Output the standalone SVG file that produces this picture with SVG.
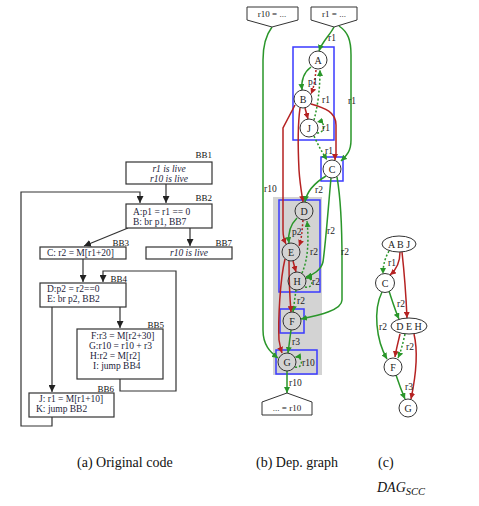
<svg xmlns="http://www.w3.org/2000/svg" width="479" height="506" viewBox="0 0 479 506">
<style>
text{font-family:"Liberation Serif","Times New Roman",serif;fill:#1d1d3a}
.code{font-size:9.5px}
.it{font-style:italic}
.bbl{font-size:9px;text-anchor:end;fill:#111}
.box{fill:#fff;stroke:#333;stroke-width:1.2}
.cf{fill:none;stroke:#333;stroke-width:1.2}
.nd{fill:none;stroke:#333;stroke-width:1}
.nt{font-size:10px;text-anchor:middle;fill:#222}
.lb{font-size:9.5px;fill:#222}
.house{fill:#fff;stroke:#333;stroke-width:1}
.ht{font-size:9px;text-anchor:middle;fill:#222}
.g{fill:none;stroke:#2a962a;stroke-width:1.5}
.r{fill:none;stroke:#b52222;stroke-width:1.5}
.d{stroke-dasharray:2,2}
.scc{fill:none;stroke:#3a3aff;stroke-width:1.5}
.cap{font-size:14px;fill:#111}
</style>
<defs>
<marker id="ak" viewBox="0 0 10 10" refX="10" refY="5" markerWidth="7" markerHeight="7" markerUnits="userSpaceOnUse" orient="auto"><path d="M0,0L10,5L0,10z" fill="#222"/></marker>
<marker id="ag" viewBox="0 0 10 10" refX="10" refY="5" markerWidth="6" markerHeight="6" markerUnits="userSpaceOnUse" orient="auto"><path d="M0,0L10,5L0,10z" fill="#2a962a"/></marker>
<marker id="ar" viewBox="0 0 10 10" refX="10" refY="5" markerWidth="6" markerHeight="6" markerUnits="userSpaceOnUse" orient="auto"><path d="M0,0L10,5L0,10z" fill="#b52222"/></marker>
</defs>
<rect width="479" height="506" fill="#fff"/>

<!-- (a) Original code -->
<g id="a-connectors">
<path class="cf" d="M166,184V203" marker-end="url(#ak)"/>
<path class="cf" d="M52,417V426H21V192H140V203" marker-end="url(#ak)"/>
<path class="cf" d="M128,228L84,246" marker-end="url(#ak)"/>
<path class="cf" d="M190,228V246" marker-end="url(#ak)"/>
<path class="cf" d="M83,259V282" marker-end="url(#ak)"/>
<path class="cf" d="M120,379V391H176V271H103V282" marker-end="url(#ak)"/>
<path class="cf" d="M120,307V328" marker-end="url(#ak)"/>
<path class="cf" d="M52,307V392" marker-end="url(#ak)"/>
</g>
<g id="BB1"><text class="bbl" x="212" y="158">BB1</text><rect class="box" x="126" y="162" width="86" height="22"/>
<text class="code it" x="169" y="172" text-anchor="middle">r1 is live</text><text class="code it" x="169" y="182" text-anchor="middle">r10 is live</text></g>
<g id="BB2"><text class="bbl" x="212" y="201">BB2</text><rect class="box" x="126" y="204" width="86" height="24"/>
<text class="code" x="133" y="215">A:p1 = r1 == 0</text><text class="code" x="133" y="225">B: br p1, BB7</text></g>
<g id="BB3"><text class="bbl" x="129" y="246">BB3</text><rect class="box" x="40" y="247" width="86" height="12"/>
<text class="code" x="47" y="256">C: r2 = M[r1+20]</text></g>
<g id="BB7"><text class="bbl" x="232" y="246">BB7</text><rect class="box" x="146" y="247" width="86" height="12"/>
<text class="code it" x="189" y="256" text-anchor="middle">r10 is live</text></g>
<g id="BB4"><text class="bbl" x="127" y="282">BB4</text><rect class="box" x="40" y="283" width="86" height="24"/>
<text class="code" x="47" y="292">D:p2 = r2==0</text><text class="code" x="47" y="302">E: br p2, BB2</text></g>
<g id="BB5"><text class="bbl" x="164" y="328">BB5</text><rect class="box" x="77" y="329" width="86" height="50"/>
<text class="code" x="91" y="339">F:r3 = M[r2+30]</text><text class="code" x="89" y="349">G:r10 = r10 + r3</text>
<text class="code" x="90" y="359">H:r2 = M[r2]</text><text class="code" x="93" y="369">I: jump BB4</text></g>
<g id="BB6"><text class="bbl" x="114" y="392">BB6</text><rect class="box" x="29" y="393" width="85" height="24"/>
<text class="code" x="39" y="402">J: r1 = M[r1+10]</text><text class="code" x="36" y="412">K: jump BB2</text></g>

<!-- (b) Dep. graph -->
<rect x="273" y="197" width="49" height="178" fill="#d3d3d3"/>
<g id="scc-boxes">
<rect class="scc" x="293" y="47" width="41" height="93"/>
<rect class="scc" x="321" y="157" width="22" height="24"/>
<rect class="scc" x="279" y="200" width="41" height="92"/>
<rect class="scc" x="280" y="309" width="24" height="24"/>
<rect class="scc" x="276" y="350" width="41" height="24"/>
</g>
<g id="b-connectors">
<path class="g" d="M334,27C330,35 322,42 319,51" marker-end="url(#ag)"/>
<path class="g" d="M339,26C348,32 351,40 351,55L351,140C351,152 346,156 341,161" marker-end="url(#ag)"/>
<path class="g" d="M272,27C266,35 263,45 263,60L263,330C263,345 270,352 278,358" marker-end="url(#ag)"/>
<path class="g" d="M311,67C303,73 301,80 302,90" marker-end="url(#ag)"/>
<path class="r d" d="M316,70C315,80 314,87 311,94" marker-end="url(#ar)"/>
<path class="g d" d="M314,120C318,105 320,88 320,70" marker-end="url(#ag)"/>
<path class="r" d="M305,108L308,119" marker-end="url(#ar)"/>
<path class="g d" d="M317,133C326,133 326,120 317,122" marker-end="url(#ag)"/>
<path class="g d" d="M314,136C318,145 322,152 327,160" marker-end="url(#ag)"/>
<path class="r" d="M311,104C325,108 336,112 336,125L336,153C336,156 335,158 335,160" marker-end="url(#ar)"/>
<path class="r" d="M300,108C297,130 298,150 299,170C300,185 302,195 303,202" marker-end="url(#ar)"/>
<path class="r" d="M295,105L283,128L283,230C283,238 285,242 286,244" marker-end="url(#ar)"/>
<path class="g" d="M326,176C316,182 307,190 305,202" marker-end="url(#ag)"/>
<path class="g" d="M331,178C328,210 326,240 323,262C321,270 313,275 306,277" marker-end="url(#ag)"/>
<path class="g" d="M337,177C341,200 342,230 342,260L342,300C342,310 320,315 301,319" marker-end="url(#ag)"/>
<path class="g" d="M297,218C290,225 288,235 289,243" marker-end="url(#ag)"/>
<path class="r d" d="M303,220C302,230 302,238 299,246" marker-end="url(#ar)"/>
<path class="g d" d="M302,273C308,260 309,240 307,221" marker-end="url(#ag)"/>
<path class="r" d="M293,261L296,272" marker-end="url(#ar)"/>
<path class="g d" d="M305,287C314,289 314,277 306,278" marker-end="url(#ag)"/>
<path class="g d" d="M296,290L293,312" marker-end="url(#ag)"/>
<path class="r" d="M289,261C289,280 290,300 291,312" marker-end="url(#ar)"/>
<path class="r" d="M285,259C280,280 278,320 279,340C280,346 281,350 282,353" marker-end="url(#ar)"/>
<path class="g" d="M291,330L288,353" marker-end="url(#ag)"/>
<path class="g d" d="M295,367C304,369 303,356 295,357" marker-end="url(#ag)"/>
<path class="g" d="M287,371L287,393" marker-end="url(#ag)"/>
<text class="lb" x="328" y="41">r1</text>
<text class="lb" x="348" y="104">r1</text>
<text class="lb" x="264" y="192">r10</text>
<text class="lb" x="308" y="85">p1</text>
<text class="lb" x="322" y="103">r1</text>
<text class="lb" x="322" y="131">r1</text>
<text class="lb" x="325" y="154">r1</text>
<text class="lb" x="315" y="193">r2</text>
<text class="lb" x="327" y="234">r2</text>
<text class="lb" x="341" y="255">r2</text>
<text class="lb" x="292" y="235">p2</text>
<text class="lb" x="310" y="255">r2</text>
<text class="lb" x="312" y="285">r2</text>
<text class="lb" x="297" y="304">r2</text>
<text class="lb" x="292" y="345">r3</text>
<text class="lb" x="302" y="366">r10</text>
<text class="lb" x="289" y="386">r10</text>
</g>
<g id="src-r10"><polygon class="house" points="247,7 298,7 298,20 272,27 247,20"/><text class="ht" x="272" y="17">r10 = ...</text></g>
<g id="src-r1"><polygon class="house" points="311,7 357,7 357,20 334,27 311,20"/><text class="ht" x="334" y="17">r1 = ...</text></g>
<g id="sink-r10"><polygon class="house" points="262,402 287,393 312,402 312,415 262,415"/><text class="ht" x="287" y="411">... = r10</text></g>
<g id="nA"><circle class="nd" cx="318" cy="60" r="9"/><text class="nt" x="318" y="63.5">A</text></g>
<g id="nB"><circle class="nd" cx="303" cy="99" r="9"/><text class="nt" x="303" y="102.5">B</text></g>
<g id="nJ"><circle class="nd" cx="309" cy="128" r="9"/><text class="nt" x="309" y="131.5">J</text></g>
<g id="nC"><circle class="nd" cx="332" cy="169" r="9"/><text class="nt" x="332" y="172.5">C</text></g>
<g id="nD"><circle class="nd" cx="304" cy="211" r="9"/><text class="nt" x="304" y="214.5">D</text></g>
<g id="nE"><circle class="nd" cx="291" cy="252" r="9"/><text class="nt" x="291" y="255.5">E</text></g>
<g id="nH"><circle class="nd" cx="297" cy="281" r="9"/><text class="nt" x="297" y="284.5">H</text></g>
<g id="nF"><circle class="nd" cx="292" cy="321" r="9"/><text class="nt" x="292" y="324.5">F</text></g>
<g id="nG"><circle class="nd" cx="287" cy="362" r="9"/><text class="nt" x="287" y="365.5">G</text></g>

<!-- (c) DAG_SCC -->
<g id="c-connectors">
<path class="g d" d="M389,251C385,258 383,265 383,274" marker-end="url(#ag)"/>
<path class="r" d="M400,252C400,262 396,270 390,275" marker-end="url(#ar)"/>
<path class="r" d="M402,252C404,270 406,295 407,318" marker-end="url(#ar)"/>
<path class="g" d="M389,291C392,300 395,310 399,319" marker-end="url(#ag)"/>
<path class="g" d="M382,292C373,310 376,340 387,359" marker-end="url(#ag)"/>
<path class="r" d="M400,334C398,343 396,350 395,357" marker-end="url(#ar)"/>
<path class="g d" d="M405,334C403,343 401,351 398,358" marker-end="url(#ag)"/>
<path class="r" d="M414,334C419,355 415,380 411,399" marker-end="url(#ar)"/>
<path class="g" d="M396,375C399,384 402,392 405,399" marker-end="url(#ag)"/>
<text class="lb" x="388" y="266">r1</text>
<text class="lb" x="397" y="307">r2</text>
<text class="lb" x="379" y="330">r2</text>
<text class="lb" x="406" y="350">r2</text>
<text class="lb" x="405" y="390">r3</text>
</g>
<g id="cABJ"><ellipse class="nd" cx="399" cy="244" rx="17" ry="8"/><text class="nt" x="399" y="247.5">A B J</text></g>
<g id="cC"><circle class="nd" cx="385" cy="283" r="9.5"/><text class="nt" x="385" y="286.5">C</text></g>
<g id="cDEH"><ellipse class="nd" cx="409" cy="326" rx="18" ry="8"/><text class="nt" x="409" y="329.5">D E H</text></g>
<g id="cF"><circle class="nd" cx="393" cy="367" r="9"/><text class="nt" x="393" y="370.5">F</text></g>
<g id="cG"><circle class="nd" cx="408" cy="408" r="9"/><text class="nt" x="408" y="411.5">G</text></g>

<g id="captions">
<text class="cap" x="77" y="467">(a) Original code</text>
<text class="cap" x="256" y="467">(b) Dep. graph</text>
<text class="cap" x="378" y="467">(c)</text>
<text class="cap it" x="377" y="492" font-size="15">DAG<tspan font-size="10.5" dy="3">SCC</tspan></text>
</g>
</svg>
